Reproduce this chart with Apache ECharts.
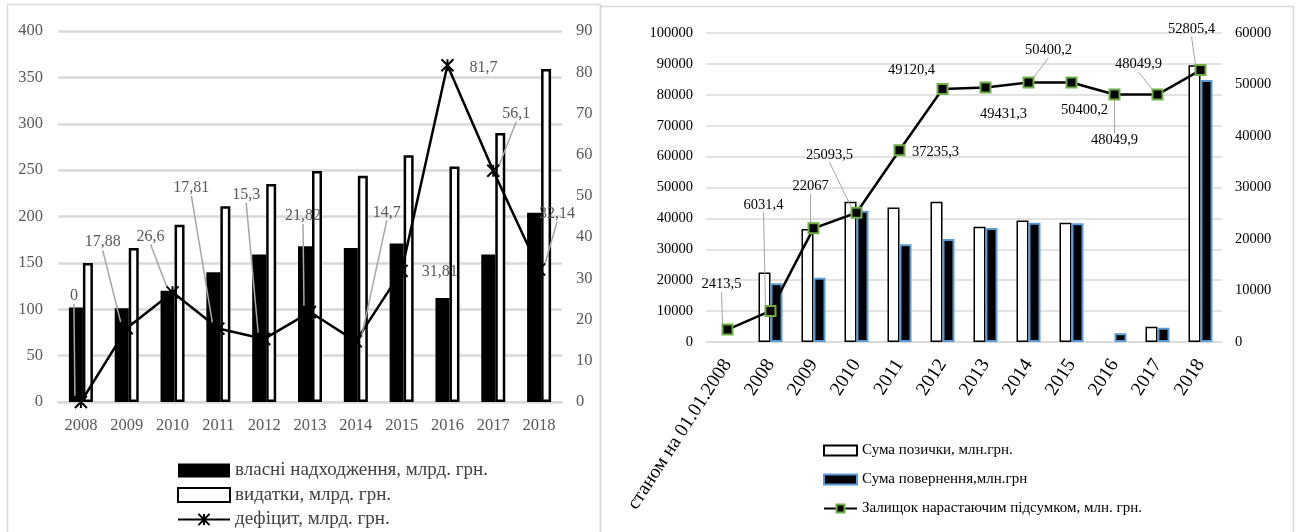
<!DOCTYPE html>
<html><head><meta charset="utf-8">
<script src="https://cdn.jsdelivr.net/npm/echarts@6/dist/echarts.min.js"></script>
<style>html,body{margin:0;padding:0;background:#fff}#c{width:1300px;height:532px}</style>
</head><body><div id="c"></div>
<script>
// ---- Left chart data ----
const yearsL = ['2008','2009','2010','2011','2012','2013','2014','2015','2016','2017','2018'];
const ownRevenue = [102, 101, 120, 140, 159, 168, 166, 171, 112, 159, 204];
const expenses   = [150, 166, 191, 211, 235, 249, 244, 266, 254, 290, 359];
const deficit    = [0, 17.88, 26.6, 17.81, 15.3, 21.82, 14.7, 31.81, 81.7, 56.1, 32.14];
const ticksL1 = [0, 50, 100, 150, 200, 250, 300, 350, 400];
const ticksL2 = [0, 10, 20, 30, 40, 50, 60, 70, 80, 90];

// ---- Right chart data ----
const catsR = ['станом на 01.01.2008','2008','2009','2010','2011','2012','2013','2014','2015','2016','2017','2018'];
const loans   = [null, 22500, 36600, 45400, 43500, 45400, 37300, 39300, 38600, null, 4950, 89600];
const repaid  = [null, 19000, 20800, 42500, 31600, 33300, 36900, 38600, 38400, 2800, 4630, 84800];
const balance = [2413.5, 6031.4, 22067, 25093.5, 37235.3, 49120.4, 49431.3, 50400.2, 50400.2, 48049.9, 48049.9, 52805.4];
const ticksR1 = [0,10000,20000,30000,40000,50000,60000,70000,80000,90000,100000];
const ticksR2 = [0,10000,20000,30000,40000,50000,60000];

// ---- label placement (offsets of label centre from its point) ----
const offL = [[-7,-106],[-24,-86],[-22,-56],[-27,-141],[-18,-144],[-7,-96],[31,-129],[38,1],[36,3],[23,-57],[18,-56]];
const leadL = [1,1,1,1,1,1,1,0,0,1,1];
const offR = [[-6,-45],[-7,-106],[-3,-42],[-27,-58],[36,2],[-31,-19],[18,27],[20,-32],[13,28],[0,46],[-19,-30],[-9,-41]];
const leadR = [1,1,1,1,0,0,0,1,0,1,1,1];

const SERIF = "'Liberation Serif','Times New Roman',serif";
const fmt = p => String(p.value).replace('.', ',');
const plain = v => String(v);
const ax = t => ({min: t[0], max: t[t.length-1], interval: t[1]-t[0]});

function layoutFrom(off) {
  return function (p) {
    const o = off[p.dataIndex];
    return {x: p.rect.x + p.rect.width/2 + o[0], y: p.rect.y + p.rect.height/2 + o[1], align: 'center', verticalAlign: 'middle'};
  };
}

const chart = echarts.init(document.getElementById('c'), null, {renderer: 'canvas'});
chart.setOption({
  animation: false,
  backgroundColor: '#fff',
  graphic: [
    {type: 'rect', shape: {x: 7.5, y: 4.5, width: 593, height: 540}, style: {fill: null, stroke: '#d9d9d9', lineWidth: 1.5}, silent: true, z: -1},
    {type: 'rect', shape: {x: 600.5, y: 6.5, width: 693, height: 540}, style: {fill: null, stroke: '#d9d9d9', lineWidth: 1.5}, silent: true, z: -1}
  ],
  legend: [
    {
      orient: 'vertical', left: 177, top: 461, padding: 0, itemGap: 5.5,
      itemWidth: 52, itemHeight: 14,
      textStyle: {fontFamily: SERIF, fontSize: 19, color: '#404040', lineHeight: 19},
      data: [
        {name: 'власні надходження, млрд. грн.', icon: 'rect'},
        {name: 'видатки, млрд. грн.', icon: 'rect'},
        {name: 'дефіцит, млрд. грн.'}
      ]
    },
    {
      orient: 'vertical', left: 823, top: 443, padding: 0, itemGap: 14,
      itemWidth: 33, itemHeight: 10,
      textStyle: {fontFamily: SERIF, fontSize: 15, color: '#000', lineHeight: 15},
      data: [
        {name: 'Сума позички, млн.грн.', icon: 'rect'},
        {name: 'Сума повернення,млн.грн', icon: 'rect'},
        {name: 'Залищок нарастаючим підсумком, млн. грн.'}
      ]
    }
  ],
  grid: [
    {left: 58, top: 31, width: 504, height: 371},
    {left: 706, top: 33, width: 516, height: 309}
  ],
  xAxis: [
    {type: 'category', gridIndex: 0, data: yearsL,
     axisTick: {show: false}, axisLine: {show: true, lineStyle: {color: '#d9d9d9', width: 2}},
     axisLabel: {fontFamily: SERIF, fontSize: 16.5, color: '#595959', margin: 15}},
    {type: 'category', gridIndex: 1, data: catsR,
     axisTick: {show: false}, axisLine: {show: true, lineStyle: {color: '#d9d9d9', width: 1.5}},
     axisLabel: {fontFamily: SERIF, fontSize: 19.5, color: '#000', margin: 19, rotate: 57, interval: 0}}
  ],
  yAxis: [
    Object.assign({type: 'value', gridIndex: 0, position: 'left',
     axisLine: {show: false}, axisTick: {show: false},
     splitLine: {lineStyle: {color: '#d9d9d9', width: 2.5}},
     axisLabel: {fontFamily: SERIF, fontSize: 16.5, color: '#595959', margin: 15, formatter: plain}}, ax(ticksL1)),
    Object.assign({type: 'value', gridIndex: 0, position: 'right',
     axisLine: {show: false}, axisTick: {show: false}, splitLine: {show: false},
     axisLabel: {fontFamily: SERIF, fontSize: 16.5, color: '#595959', margin: 14, formatter: plain}}, ax(ticksL2)),
    Object.assign({type: 'value', gridIndex: 1, position: 'left',
     axisLine: {show: false}, axisTick: {show: false},
     splitLine: {lineStyle: {color: '#d9d9d9', width: 1.5}},
     axisLabel: {fontFamily: SERIF, fontSize: 14.5, color: '#000', margin: 13, formatter: plain}}, ax(ticksR1)),
    Object.assign({type: 'value', gridIndex: 1, position: 'right',
     axisLine: {show: false}, axisTick: {show: false}, splitLine: {show: false},
     axisLabel: {fontFamily: SERIF, fontSize: 14.5, color: '#000', margin: 13, formatter: plain}}, ax(ticksR2))
  ],
  series: [
    {name: 'власні надходження, млрд. грн.', type: 'bar', xAxisIndex: 0, yAxisIndex: 0,
     data: ownRevenue, barWidth: 14, itemStyle: {color: '#000'}},
    {name: 'видатки, млрд. грн.', type: 'bar', xAxisIndex: 0, yAxisIndex: 0,
     data: expenses, barWidth: 10, barGap: '0%',
     itemStyle: {color: '#fff', borderColor: '#000', borderWidth: 2.5}},
    {name: 'дефіцит, млрд. грн.', type: 'line', xAxisIndex: 0, yAxisIndex: 1,
     data: deficit.map((v, i) => ({value: v, labelLine: {show: !!leadL[i]}})),
     symbol: 'path://M0,0L10,10M10,0L0,10M5,0L5,10', symbolSize: 12,
     lineStyle: {color: '#000', width: 2.5},
     itemStyle: {color: '#000', borderColor: '#000', borderWidth: 2},
     label: {show: true, formatter: fmt, fontFamily: SERIF, fontSize: 16, color: '#595959'},
     labelLine: {show: true, lineStyle: {color: '#a6a6a6', width: 1.5}},
     labelLayout: layoutFrom(offL), z: 5},

    {name: 'Сума позички, млн.грн.', type: 'bar', xAxisIndex: 1, yAxisIndex: 2,
     data: loans, barWidth: 12,
     itemStyle: {color: '#fff', borderColor: '#000', borderWidth: 1.5}},
    {name: 'Сума повернення,млн.грн', type: 'bar', xAxisIndex: 1, yAxisIndex: 2,
     data: repaid, barWidth: 12, barGap: '0%',
     itemStyle: {color: '#000', borderColor: '#5B9BD5', borderWidth: 2}},
    {name: 'Залищок нарастаючим підсумком, млн. грн.', type: 'line', xAxisIndex: 1, yAxisIndex: 3,
     data: balance.map((v, i) => ({value: v, labelLine: {show: !!leadR[i]}})),
     symbol: 'rect', symbolSize: 10,
     lineStyle: {color: '#000', width: 2.5},
     itemStyle: {color: '#000', borderColor: '#70AD47', borderWidth: 2},
     label: {show: true, formatter: fmt, fontFamily: SERIF, fontSize: 14.5, color: '#000'},
     labelLine: {show: true, lineStyle: {color: '#a6a6a6', width: 1}},
     labelLayout: layoutFrom(offR), z: 5}
  ]
});
</script></body></html>
